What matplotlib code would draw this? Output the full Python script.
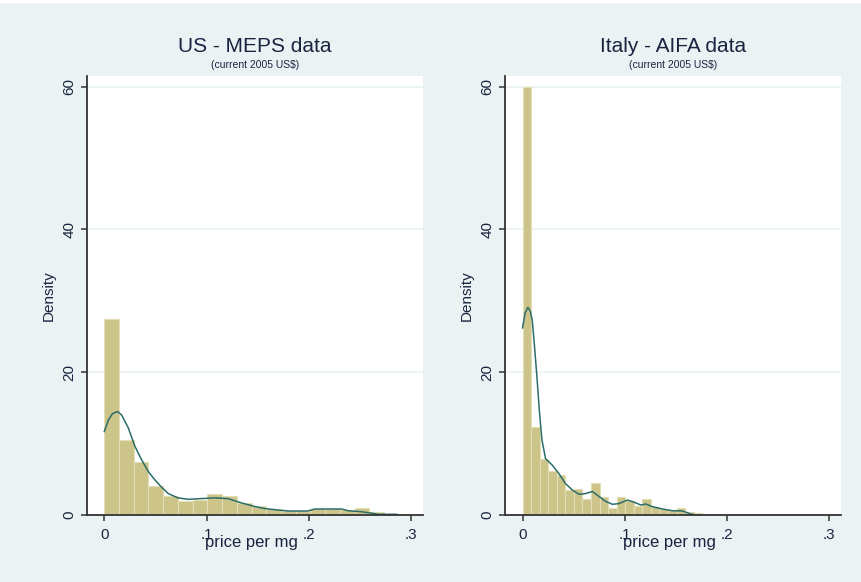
import matplotlib
matplotlib.use("Agg")
import matplotlib.pyplot as plt
import numpy as np

plt.rcParams['font.family'] = ['Liberation Sans', 'DejaVu Sans']

# histogram densities (bins start at 0)
us_bin_width = 0.0144
us_density = [27.5, 10.5, 7.4, 4.07, 2.66, 2.0, 2.1, 2.9, 2.6, 1.7, 1.2,
              0.8, 0.6, 0.6, 0.85, 0.85, 0.7, 0.93, 0.37, 0.1, 0.2]

it_bin_width = 0.00837
it_density = [60.0, 12.3, 7.8, 6.2, 5.6, 3.5, 3.6, 2.24, 4.44, 2.57, 0.93,
              2.48, 2.0, 1.26, 2.24, 1.17, 0.84, 0.7, 0.93, 0.37, 0.23]

# kernel density curves
us_kde_x = [0.0, 0.004, 0.008, 0.013, 0.017, 0.0235, 0.030, 0.0366, 0.043,
            0.0496, 0.056, 0.0626, 0.072, 0.082, 0.095, 0.108, 0.121, 0.134,
            0.147, 0.157, 0.170, 0.180, 0.199, 0.206, 0.232, 0.2385, 0.251,
            0.262, 0.268, 0.286]
us_kde_y = [11.7, 13.3, 14.2, 14.5, 14.0, 12.2, 9.6, 7.7, 6.1,
            4.9, 3.9, 3.0, 2.4, 2.2, 2.3, 2.4, 2.3, 1.7,
            1.2, 0.9, 0.7, 0.56, 0.56, 0.84, 0.84, 0.6, 0.47,
            0.25, 0.1, 0.1]

it_kde_x = [0.0, 0.0025, 0.0052, 0.0075, 0.0095, 0.0115, 0.014, 0.0165, 0.019,
            0.0225, 0.029, 0.0356, 0.042, 0.0487, 0.0552, 0.0617, 0.0683,
            0.0748, 0.0814, 0.088, 0.0944, 0.1026, 0.109, 0.1157, 0.1206,
            0.127, 0.137, 0.1468, 0.1566, 0.1647, 0.1696]
it_kde_y = [26.2, 28.3, 29.1, 28.6, 27.3, 24.0, 19.5, 14.5, 10.5,
            7.9, 7.0, 5.8, 4.4, 3.5, 2.9, 3.0, 3.3,
            2.6, 1.9, 1.5, 1.6, 2.1, 1.8, 1.4, 1.54,
            1.17, 0.84, 0.6, 0.56, 0.14, 0.0]

titles = ['US - MEPS data', 'Italy - AIFA data']
subtitle = '(current 2005 US$)'
x_ticks = [0, 0.1, 0.2, 0.3]
x_tick_labels = ['0', '.1', '.2', '.3']
y_ticks = [0, 20, 40, 60]

bg = '#eaf2f3'
bar_color = '#cdc48a'
bar_edge = '#e3deb3'
line_color = '#2b6d69'
text_color = '#1a2440'

fig = plt.figure(figsize=(8.62, 5.82), dpi=100, facecolor=bg)
# thin white strip along the top edge
fig.patches.append(plt.Rectangle((0, 0.996), 1, 0.004, transform=fig.transFigure,
                                 color='white', zorder=0))

panels = [
    (0.1006, us_bin_width, us_density, us_kde_x, us_kde_y),
    (0.5858, it_bin_width, it_density, it_kde_x, it_kde_y),
]

for k, (left, bw, dens, kx, ky) in enumerate(panels):
    ax = fig.add_axes([left, 0.1151, 0.3898, 0.7543])
    ax.set_facecolor('white')
    edges = np.arange(len(dens)) * bw
    ax.bar(edges, dens, width=bw, align='edge', color=bar_color,
           edgecolor=bar_edge, linewidth=0.8, zorder=2)
    ax.plot(kx, ky, color=line_color, linewidth=1.1, zorder=3)

    ax.set_xlim(-0.0172, 0.3115)
    ax.set_ylim(0, 61.5)
    for g in y_ticks[1:]:
        ax.axhline(g, color=bg, linewidth=1.2, zorder=1)

    for s in ['top', 'right']:
        ax.spines[s].set_visible(False)
    for s in ['left', 'bottom']:
        ax.spines[s].set_color('#333333')
        ax.spines[s].set_linewidth(1.3)
        ax.spines[s].set_zorder(4)

    ax.set_xticks(x_ticks)
    ax.set_xticklabels(x_tick_labels)
    ax.set_yticks(y_ticks)
    ax.set_yticklabels([str(v) for v in y_ticks], rotation=90, va='center')
    ax.tick_params(axis='both', direction='out', length=4, width=1.1,
                   color='#333333', labelsize=11, labelcolor=text_color)
    ax.tick_params(axis='x', pad=5)
    ax.tick_params(axis='y', pad=3.5)

    ax.set_xlabel('price per mg', fontsize=12, color=text_color)
    ax.xaxis.set_label_coords(0.49, -0.045)
    ax.set_ylabel('Density', fontsize=11, color=text_color)
    ax.yaxis.set_label_coords(-0.092, 0.5)

    ax.text(0.5, 1.0554, titles[k], transform=ax.transAxes, ha='center',
            va='baseline', fontsize=15, color=text_color)
    ax.text(0.5, 1.018, subtitle, transform=ax.transAxes, ha='center',
            va='baseline', fontsize=7.5, color=text_color)

fig.savefig('out.png', dpi=100, facecolor=bg)
